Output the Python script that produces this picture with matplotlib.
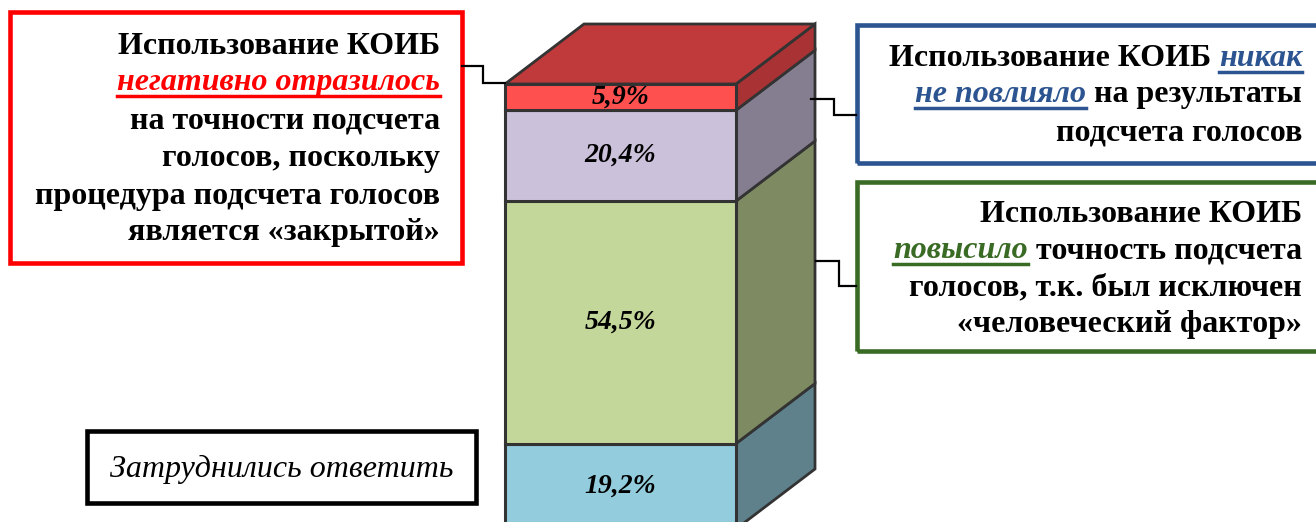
import matplotlib
matplotlib.use("Agg")
import matplotlib.pyplot as plt
from matplotlib.patches import Polygon, Rectangle
from matplotlib.lines import Line2D

W, H = 1316, 522

# ---- data ----
categories = ["Затруднились ответить", "Повысило точность подсчета",
              "Никак не повлияло", "Негативно отразилось"]
values = [19.2, 54.5, 20.4, 5.9]
value_labels = ["19,2%", "54,5%", "20,4%", "5,9%"]
front_colors = ["#93CDDD", "#C4D79B", "#CCC1DA", "#FF5050"]
side_colors = ["#5F818C", "#7E8A61", "#857E90", "#A83234"]
top_color = "#C0393B"
edge_color = "#333333"

FONT = "Liberation Serif"

fig = plt.figure(figsize=(W / 100, H / 100), dpi=100)
ax = fig.add_axes([0, 0, 1, 1])
ax.axis("off")

# scales: 1 y-unit (percent) = 4.45 px, bar width 1 = 231 px
ypx = 4.45
xpx = 231.0
ax.set_ylim(7 / ypx, 529 / ypx)
ax.set_xlim(-0.5 - 505 / xpx, 0.5 + (W - 736) / xpx)
dx = 79 / xpx
dy = 60 / ypx

bottoms = []
acc = 0.0
for v in values:
    bottoms.append(acc)
    acc += v
total = acc

# side faces
for b, v, sc in zip(bottoms, values, side_colors):
    x1 = 0.5
    poly = Polygon([(x1, b), (x1 + dx, b + dy), (x1 + dx, b + v + dy), (x1, b + v)],
                   closed=True, facecolor=sc, edgecolor=edge_color, linewidth=2.0, zorder=1)
    ax.add_patch(poly)
# top face
top = Polygon([(-0.5, total), (-0.5 + dx, total + dy), (0.5 + dx, total + dy), (0.5, total)],
              closed=True, facecolor=top_color, edgecolor=edge_color, linewidth=2.0, zorder=1)
ax.add_patch(top)
# front faces
ax.bar([0] * len(values), values, bottom=bottoms, width=1.0, color=front_colors,
       edgecolor=edge_color, linewidth=2.2, zorder=2)
for b, v, lab in zip(bottoms, values, value_labels):
    ax.text(0, b + v / 2, lab, ha="center", va="center", family=FONT,
            fontsize=20, weight="bold", style="italic", color="black", zorder=3)

# ---- annotation boxes ----
def fx(x):
    return x / W

def fy(y):
    return 1 - y / H

def rect(x0, y0, x1, y1, color, lw):
    fig.add_artist(Rectangle((fx(x0), fy(y1)), fx(x1) - fx(x0), fy(y0) - fy(y1),
                             transform=fig.transFigure, fill=False,
                             edgecolor=color, linewidth=lw, clip_on=False))

def poly_line(pts, color="black", lw=1.6):
    fig.add_artist(Line2D([fx(p[0]) for p in pts], [fy(p[1]) for p in pts],
                          transform=fig.transFigure, color=color, linewidth=lw,
                          solid_joinstyle="miter"))

RED = "#FF0000"
BLUE = "#2B5490"
GREEN = "#3A6B25"

rect(10, 12, 462, 263, RED, 3.3)
rect(857, 25, 1330, 163, BLUE, 3.3)
rect(857, 182, 1330, 351, GREEN, 3.3)
rect(87, 431, 476, 503, "black", 3.3)

poly_line([(462, 66), (483, 66), (483, 83), (505, 83)])
poly_line([(811, 99), (834, 99), (834, 115), (856, 115)])
poly_line([(816, 261), (839, 261), (839, 286), (856, 286)])

renderer = fig.canvas.get_renderer()
SIZE = 23

styles = {
    "b": dict(weight="bold", style="normal", color="black"),
    "r": dict(weight="bold", style="italic", color=RED),
    "bl": dict(weight="bold", style="italic", color=BLUE),
    "g": dict(weight="bold", style="italic", color=GREEN),
}
underline = {"r": RED, "bl": BLUE, "g": GREEN}

def width_of(s, st, size):
    t = fig.text(0, 0, s, fontsize=size, family=FONT, **styles[st])
    w = t.get_window_extent(renderer).width
    t.remove()
    return w

space_w = width_of("и и", "b", SIZE) - width_of("ии", "b", SIZE)

def draw_line(runs, xr, yb, size=SIZE):
    texts = []
    for txt, st in runs:
        t = fig.text(0, fy(yb), txt, fontsize=size, family=FONT, va="baseline",
                     ha="left", **styles[st])
        texts.append(t)
    widths = [t.get_window_extent(renderer).width for t in texts]
    tot = sum(widths) + space_w * (len(runs) - 1)
    x = xr - tot
    for t, w, (txt, st) in zip(texts, widths, runs):
        t.set_x(fx(x))
        if st in underline:
            fig.add_artist(Line2D([fx(x), fx(x + w)], [fy(yb + 6)] * 2,
                                  transform=fig.transFigure, color=underline[st],
                                  linewidth=2.5))
        x += w + space_w

left_lines = [
    ([("Использование КОИБ", "b")], 54),
    ([("негативно отразилось", "r")], 90),
    ([("на точности подсчета", "b")], 128),
    ([("голосов, поскольку", "b")], 166),
    ([("процедура подсчета голосов", "b")], 204),
    ([("является «закрытой»", "b")], 240),
]
for runs, yb in left_lines:
    draw_line(runs, 440, yb)

blue_lines = [
    ([("Использование КОИБ", "b"), ("никак", "bl")], 66),
    ([("не повлияло", "bl"), ("на результаты", "b")], 102),
    ([("подсчета голосов", "b")], 140),
]
for runs, yb in blue_lines:
    draw_line(runs, 1302, yb)

green_lines = [
    ([("Использование КОИБ", "b")], 222),
    ([("повысило", "g"), ("точность подсчета", "b")], 258),
    ([("голосов, т.к. был исключен", "b")], 295),
    ([("«человеческий фактор»", "b")], 332),
]
for runs, yb in green_lines:
    draw_line(runs, 1302, yb)

fig.text(fx(110), fy(477), "Затруднились ответить", family=FONT, fontsize=23,
         style="italic", color="black", va="baseline", ha="left")

fig.savefig("out.png", dpi=100)
